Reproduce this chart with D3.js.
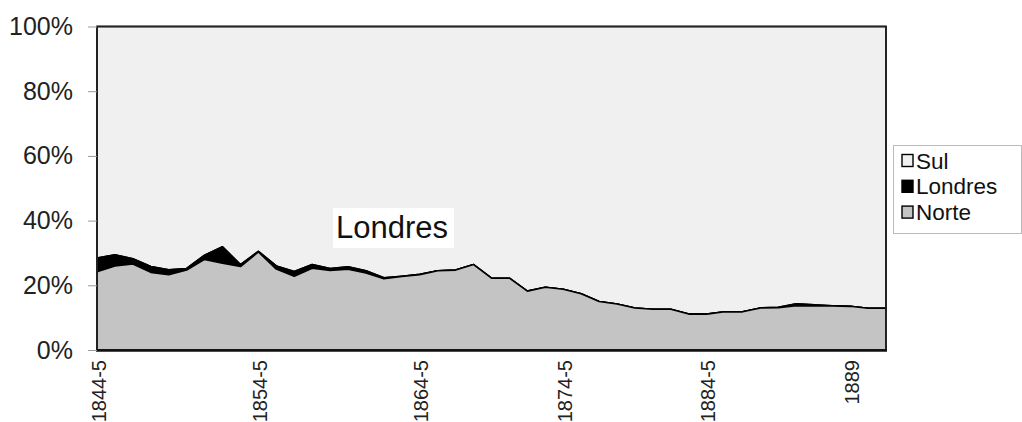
<!DOCTYPE html>
<html><head><meta charset="utf-8">
<script src="https://cdn.jsdelivr.net/npm/d3@7/dist/d3.min.js"></script>
<style>html,body{margin:0;padding:0;background:#fff;}svg{display:block;font-family:"Liberation Sans",Arial,sans-serif;}</style>
</head><body><svg id="c" width="1022" height="422"></svg>
<script>
const categories = ["1844-5","1845-6","1846-7","1847-8","1848-9","1849-50","1850-1","1851-2","1852-3","1854-5",
"1855-6","1856-7","1857-8","1858-9","1859-60","1860-1","1861-2","1862-3","1864-5",
"1865-6","1866-7","1867-8","1868-9","1869-70","1870-1","1871-2","1874-5",
"1875-6","1876-7","1877-8","1878-9","1879-80","1880-1","1881-2","1884-5",
"1885-6","1886-7","1887-8","1888-9","1886","1887","1888","1889","1890","1891"];
const tickLabels = ["1844-5","1854-5","1864-5","1874-5","1884-5","1889"];
const norte = [24.2,26.0,26.6,24.0,23.3,24.7,28.0,26.8,25.8,30.3,25.0,22.8,25.3,24.6,25.0,23.8,22.0,22.7,23.3,24.5,24.7,26.4,22.2,22.2,18.2,19.4,18.8,17.4,15.0,14.2,13.0,12.6,12.6,11.1,11.1,11.8,11.8,13.0,13.1,13.7,13.6,13.6,13.5,12.9,12.9];
const londres = [4.2,3.4,1.6,1.8,1.5,0.5,1.3,5.1,0.6,0.2,1.0,1.5,1.1,0.6,0.7,0.7,0.3,0.1,0.1,0,0,0,0,0,0,0,0,0,0,0,0,0,0,0,0,0,0,0,0.1,0.6,0.4,0.1,0,0,0];
const sul = [71.6,70.6,71.8,74.2,75.2,74.8,70.7,68.1,73.6,69.5,74.0,75.7,73.6,74.8,74.3,75.5,77.7,77.2,76.6,75.5,75.3,73.6,77.8,77.8,81.8,80.6,81.2,82.6,85.0,85.8,87.0,87.4,87.4,88.9,88.9,88.2,88.2,87.0,86.8,85.7,86.0,86.3,86.5,87.1,87.1];
const seriesNames = ["Norte","Londres","Sul"];
const yTicks = [0,0.2,0.4,0.6,0.8,1];

const svg = d3.select("#c");
const L = 97, R = 886, T = 26.5, B = 350;
const x = d3.scalePoint().domain(categories).range([L, R]);
const y = d3.scaleLinear().domain([0,1]).range([B, T]);

const rows = categories.map((c,i)=>({cat:c, Norte:norte[i], Londres:londres[i], Sul:sul[i]}));
const stack = d3.stack().keys(seriesNames).offset(d3.stackOffsetExpand);
const layers = stack(rows);
const fills = {Norte:"#c4c4c4", Londres:"#000000", Sul:"#f0f0f0"};

const area = d3.area().x(d=>x(d.data.cat)).y0(d=>y(d[0])).y1(d=>y(d[1]));
svg.append("g").selectAll("path").data(layers.slice().reverse()).join("path")
  .attr("d", area).attr("fill", d=>fills[d.key])
  .attr("stroke", "#000").attr("stroke-width", 1.6).attr("stroke-linejoin","round");

// plot frame
svg.append("rect").attr("x",L).attr("y",T).attr("width",R-L).attr("height",B-T)
  .attr("fill","none").attr("stroke","#222").attr("stroke-width",1.8);
svg.append("line").attr("x1",L-1).attr("x2",R+1).attr("y1",B+0.5).attr("y2",B+0.5)
  .attr("stroke","#111").attr("stroke-width",2.5);

// y axis
const ya = svg.append("g").attr("transform",`translate(${L},0)`)
  .call(d3.axisLeft(y).tickValues(yTicks).tickFormat(d3.format(".0%")).tickSize(9).tickPadding(15));
ya.select(".domain").remove();
ya.selectAll("line").attr("stroke","#999");
ya.selectAll("text").attr("font-size",25).attr("fill","#222").attr("font-family","Liberation Sans, Arial, sans-serif");

// x axis
const xa = svg.append("g").attr("transform",`translate(0,${B})`)
  .call(d3.axisBottom(x).tickValues(tickLabels).tickSize(0).tickPadding(0));
xa.select(".domain").remove();
xa.selectAll("text").attr("font-size",20).attr("fill","#222")
  .attr("font-family","Liberation Sans, Arial, sans-serif")
  .attr("text-anchor","end").attr("dy",null)
  .attr("transform","translate(1,10) rotate(-90)").attr("y",0).attr("x",0).attr("dominant-baseline","central");

// annotation
const ann = svg.append("g");
ann.append("rect").attr("x",333).attr("y",208).attr("width",121).attr("height",40).attr("fill","#fff");
ann.append("text").attr("x",336).attr("y",238).attr("font-size",31).attr("fill","#111").text("Londres");

// legend
const lg = svg.append("g");
lg.append("rect").attr("x",893.5).attr("y",145.5).attr("width",128).attr("height",88).attr("fill","#fff").attr("stroke","#bbb").attr("stroke-width",1);
const legItems = ["Sul","Londres","Norte"];
legItems.forEach((k,i)=>{
  const yy = 160.5 + i*25.8;
  lg.append("rect").attr("x",902).attr("y",yy-6).attr("width",11).attr("height",12)
    .attr("fill",fills[k]).attr("stroke","#000").attr("stroke-width",1.4);
  lg.append("text").attr("x",916).attr("y",yy+8).attr("font-size",22.5).attr("fill","#111").text(k);
});
</script></body></html>
